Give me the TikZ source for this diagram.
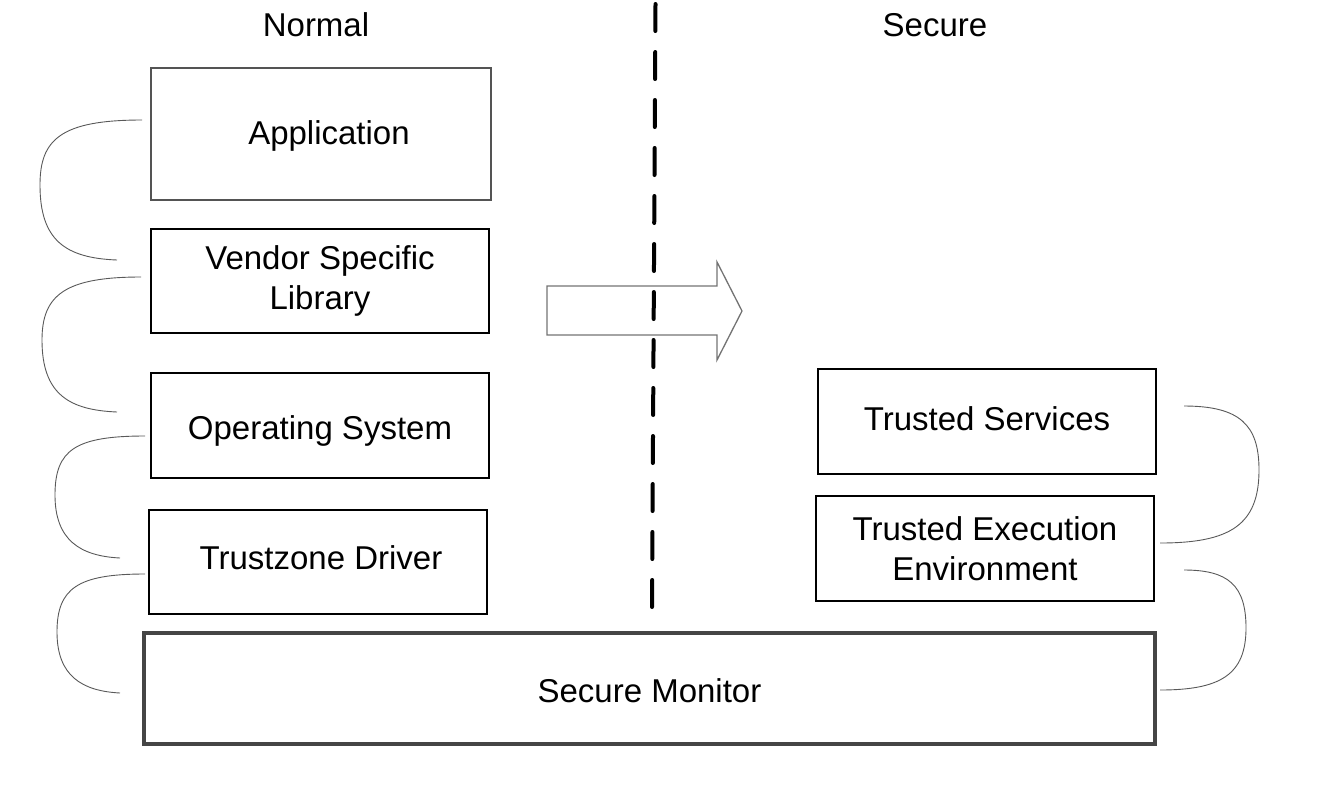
\documentclass[tikz,border=0pt]{standalone}
\usepackage{fontspec}
\setmainfont{Liberation Sans}
\newcommand{\lowered}[2]{\raisebox{-#1}[\height][\depth]{#2}}
\begin{document}
\begin{tikzpicture}[x=1pt,y=-1pt,
  every node/.style={font=\fontsize{33}{40}\selectfont, align=center, inner sep=0pt},
  layer/.style={draw=black, line width=2.2pt, rectangle},
  applayer/.style={draw=black!67, line width=1.8pt, rectangle},
  monitor/.style={draw=black!73, line width=4.5pt, rectangle},
  brace/.style={draw=black!65, line width=0.9pt},
  divider/.style={line width=4pt, line cap=round, dash pattern=on 27pt off 21pt},
  blockarrow/.style={draw=black!55, line width=1.3pt}]
\useasboundingbox (0,0) rectangle (1335,788);

% titles
\node (normal) at (316,25) {Normal};
\node (secure) at (935,25) {Secure};

% normal world stack
\node[applayer, minimum width=340pt, minimum height=132pt] (app) at (321,134) {\hspace*{16pt}\lowered{2pt}{Application}};
\node[layer, minimum width=338pt, minimum height=104pt] (vendor) at (320,281) {Vendor Specific\\Library};
\node[layer, minimum width=338pt, minimum height=105pt] (os) at (320,425.5) {\lowered{5pt}{Operating System}};
\node[layer, minimum width=338pt, minimum height=104pt] (tz) at (318,562) {\hspace*{6pt}\lowered{-4pt}{Trustzone Driver}};

% secure world stack
\node[layer, minimum width=338pt, minimum height=105pt] (ts) at (987,421.5) {\lowered{-3pt}{Trusted Services}};
\node[layer, minimum width=338pt, minimum height=105pt] (tee) at (985,548.5) {Trusted Execution\\Environment};

% secure monitor
\node[monitor, minimum width=1011pt, minimum height=111pt] (sm) at (649.5,688.5) {\lowered{2pt}{Secure Monitor}};

% divider
\coordinate (dtop) at (655.5,4);
\coordinate (dbot) at (652,609);
\draw[divider] (dtop) -- (dbot);

% block arrow
\draw[blockarrow] (547,286) -- (717,286) -- (717,262) -- (742,311) -- (717,360) -- (717,335) -- (547,335) -- cycle;

% left braces
\coordinate (b1s) at (142,120); \coordinate (b1e) at (117,260);
\coordinate (b2s) at (141,277); \coordinate (b2e) at (117,412);
\coordinate (b3s) at (145,436); \coordinate (b3e) at (120,558);
\coordinate (b4s) at (145,574); \coordinate (b4e) at (120,693);
\draw[brace] (b1s) .. controls (60,120) and (40,140) .. (40,185) .. controls (40,240) and (65,258) .. (b1e);
\draw[brace] (b2s) .. controls (65,277) and (42,295) .. (42,340) .. controls (42,395) and (70,410) .. (b2e);
\draw[brace] (b3s) .. controls (75,436) and (55,450) .. (55,495) .. controls (55,540) and (80,556) .. (b3e);
\draw[brace] (b4s) .. controls (78,574) and (57,588) .. (57,632) .. controls (57,676) and (82,691) .. (b4e);

% right braces
\coordinate (b5s) at (1184,406); \coordinate (b5e) at (1160,543);
\coordinate (b6s) at (1184,570); \coordinate (b6e) at (1160,690);
\draw[brace] (b5s) .. controls (1240,406) and (1259,425) .. (1259,470) .. controls (1259,525) and (1230,543) .. (b5e);
\draw[brace] (b6s) .. controls (1228,570) and (1246,585) .. (1246,628) .. controls (1246,675) and (1220,690) .. (b6e);
\end{tikzpicture}
\end{document}
